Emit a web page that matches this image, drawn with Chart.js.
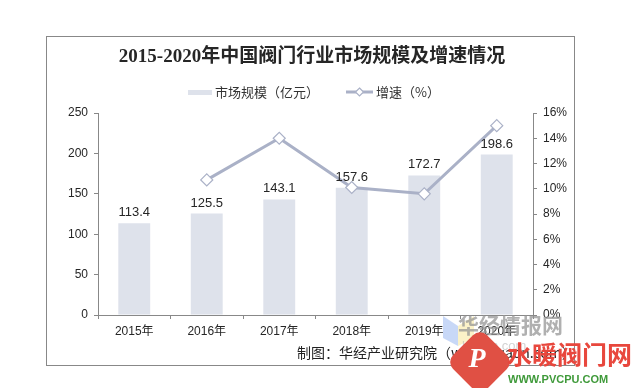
<!DOCTYPE html>
<html>
<head>
<meta charset="utf-8">
<script src="https://cdn.jsdelivr.net/npm/chart.js@4"></script>
<style>
html,body{margin:0;padding:0;background:#fff;}
#wrap{width:639px;height:388px;position:relative;}
</style>
</head>
<body>
<div id="wrap"><canvas id="c" width="639" height="388"></canvas></div>
<script>
const categories = ['2015年','2016年','2017年','2018年','2019年','2020年'];
const marketSize = [113.4, 125.5, 143.1, 157.6, 172.7, 198.6];
const growthRate = [null, 10.7, 14.0, 10.1, 9.6, 15.0];
const leftTicks = [0, 50, 100, 150, 200, 250];
const rightTicks = [0, 2, 4, 6, 8, 10, 12, 14, 16];

const titleText = '2015-2020年中国阀门行业市场规模及增速情况';
const legendBar = '市场规模（亿元）';
const legendLine = '增速（%）';
const footerText = '制图：华经产业研究院（www.huaon.com）';

const BAR_COLOR = '#DEE2EB';
const LINE_COLOR = '#AAB1C7';
const TEXT = '#262626';
const SANS = '"Liberation Sans", Arial, "Noto Sans CJK SC", sans-serif';

const decor = {
  id: 'decor',
  beforeDraw(chart) {
    const ctx = chart.ctx;
    ctx.save();
    ctx.fillStyle = '#fff';
    ctx.fillRect(0, 0, chart.width, chart.height);
    ctx.restore();
  },
  afterDatasetsDraw(chart) {
    const ctx = chart.ctx;
    ctx.save();
    // border
    ctx.strokeStyle = '#888';
    ctx.lineWidth = 1;
    ctx.strokeRect(46.5, 36.5, 528, 329);
    // title
    ctx.fillStyle = TEXT;
    ctx.textAlign = 'center';
    ctx.textBaseline = 'middle';
    ctx.font = 'bold 19px "Liberation Serif", "Noto Sans CJK SC", serif';
    ctx.fillText(titleText, 312, 57);
    // legend
    ctx.fillStyle = BAR_COLOR;
    ctx.fillRect(188, 90, 24, 5);
    ctx.fillStyle = '#333';
    ctx.font = '13px "Noto Sans CJK SC", ' + SANS;
    ctx.textAlign = 'left';
    ctx.fillText(legendBar, 215, 92);
    ctx.strokeStyle = LINE_COLOR;
    ctx.lineWidth = 3;
    ctx.beginPath(); ctx.moveTo(346, 92); ctx.lineTo(373, 92); ctx.stroke();
    ctx.fillStyle = '#fff';
    ctx.lineWidth = 1.2;
    ctx.beginPath();
    ctx.moveTo(359.5, 88); ctx.lineTo(363.5, 92); ctx.lineTo(359.5, 96); ctx.lineTo(355.5, 92); ctx.closePath();
    ctx.fill(); ctx.stroke();
    ctx.fillStyle = '#333';
    ctx.fillText(legendLine, 376, 92);
    // data labels over bars
    const meta = chart.getDatasetMeta(1);
    ctx.font = '13px ' + SANS;
    ctx.textAlign = 'center';
    ctx.textBaseline = 'alphabetic';
    ctx.fillStyle = TEXT;
    meta.data.forEach((bar, i) => {
      ctx.fillText(marketSize[i].toFixed(1), bar.x, bar.y - 7);
    });
    // footer
    ctx.font = '14px "Noto Sans CJK SC", ' + SANS;
    ctx.textAlign = 'left';
    ctx.textBaseline = 'middle';
    ctx.fillStyle = '#222';
    ctx.fillText(footerText, 297, 353);
    // watermarks
    ctx.globalAlpha = 0.55;
    ctx.fillStyle = '#9BB8F0';
    ctx.beginPath(); ctx.moveTo(443, 316); ctx.lineTo(458, 326); ctx.lineTo(458, 346); ctx.lineTo(443, 338); ctx.closePath(); ctx.fill();
    ctx.fillStyle = '#F8E79A';
    ctx.beginPath(); ctx.moveTo(458, 326); ctx.lineTo(474, 316); ctx.lineTo(474, 338); ctx.lineTo(458, 346); ctx.closePath(); ctx.fill();
    ctx.globalAlpha = 1;
    ctx.fillStyle = 'rgba(150,150,150,0.75)';
    ctx.font = 'bold 21px "Noto Sans CJK SC", sans-serif';
    ctx.textAlign = 'left';
    ctx.fillText('华经情报网', 458, 325);
    ctx.fillStyle = 'rgba(180,180,180,0.6)';
    ctx.font = '13px ' + SANS;
    ctx.fillText('huaon.com', 462, 346);
    // red logo
    ctx.save();
    ctx.translate(480, 362);
    ctx.rotate(Math.PI / 4);
    ctx.fillStyle = '#E05044';
    const s = 48;
    ctx.beginPath();
    if (ctx.roundRect) ctx.roundRect(-s/2, -s/2, s, s, 10); else ctx.rect(-s/2, -s/2, s, s);
    ctx.fill();
    ctx.restore();
    ctx.fillStyle = '#fff';
    ctx.font = 'italic bold 28px "Liberation Serif", serif';
    ctx.textAlign = 'center';
    ctx.fillText('P', 477, 360);
    ctx.fillStyle = '#E8473D';
    ctx.font = 'bold 25px "Noto Sans CJK SC", sans-serif';
    ctx.textAlign = 'left';
    ctx.fillText('水暖阀门网', 507, 354);
    ctx.fillStyle = '#3F9A3A';
    ctx.font = 'bold 11px ' + SANS;
    ctx.fillText('WWW.PVCPU.COM', 508, 380);
    ctx.restore();
  }
};

new Chart(document.getElementById('c'), {
  data: {
    labels: categories,
    datasets: [
      {
        type: 'line',
        label: legendLine,
        data: growthRate,
        yAxisID: 'y1',
        borderColor: LINE_COLOR,
        borderWidth: 3,
        pointStyle: 'rectRot',
        pointRadius: 6,
        pointBackgroundColor: '#fff',
        pointBorderColor: LINE_COLOR,
        pointBorderWidth: 1.2,
        tension: 0,
        spanGaps: false,
        order: 1
      },
      {
        type: 'bar',
        label: legendBar,
        data: marketSize,
        yAxisID: 'y',
        backgroundColor: BAR_COLOR,
        barPercentage: 0.44,
        categoryPercentage: 1,
        order: 2
      }
    ]
  },
  options: {
    responsive: false,
    animation: false,
    devicePixelRatio: 1,
    layout: { padding: { left: 46, right: 65, top: 113, bottom: 23 } },
    plugins: { legend: { display: false }, title: { display: false }, tooltip: { enabled: false } },
    scales: {
      x: {
        offset: true,
        grid: { display: true, drawOnChartArea: false, offset: true, tickLength: 4, color: '#888' },
        border: { display: true, color: '#888', width: 1 },
        ticks: { color: TEXT, font: { size: 12, family: '"Liberation Sans", Arial, "Noto Sans CJK SC", sans-serif' }, padding: 5, maxRotation: 0 },
        afterFit(scale) { scale.height = 50; }
      },
      y: {
        position: 'left',
        min: 0, max: 250,
        afterBuildTicks(scale) { scale.ticks = leftTicks.map(v => ({ value: v })); },
        grid: { display: true, drawOnChartArea: false, tickLength: 4, color: '#888' },
        border: { display: true, color: '#888', width: 1 },
        ticks: { color: TEXT, font: { size: 12, family: SANS }, padding: 6 },
        afterFit(scale) { scale.width = 52; }
      },
      y1: {
        position: 'right',
        min: 0, max: 16,
        afterBuildTicks(scale) { scale.ticks = rightTicks.map(v => ({ value: v })); },
        grid: { display: true, drawOnChartArea: false, tickLength: 4, color: '#888' },
        border: { display: true, color: '#888', width: 1 },
        ticks: { color: TEXT, font: { size: 12, family: SANS }, padding: 6, callback: v => v + '%' },
        afterFit(scale) { scale.width = 41; }
      }
    }
  },
  plugins: [decor]
});
</script>
</body>
</html>
